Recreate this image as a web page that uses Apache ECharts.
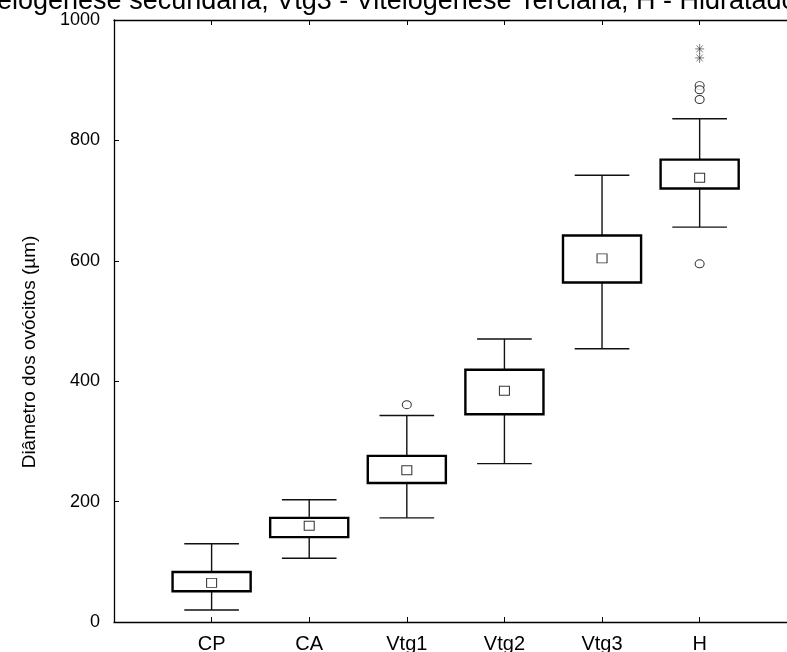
<!DOCTYPE html>
<html>
<head>
<meta charset="utf-8">
<script src="https://cdn.jsdelivr.net/npm/echarts@6/dist/echarts.min.js"></script>
<style>
  html, body { margin: 0; padding: 0; background: #fff; }
  #chart { width: 787px; height: 652px; }
</style>
</head>
<body>
<div id="chart"></div>
<script>
// Oocyte diameter by maturation stage
const stages = ['CP', 'CA', 'Vtg1', 'Vtg2', 'Vtg3', 'H'];
const whiskerLow = [20, 106, 173, 263, 454, 656];
const q1 = [51, 141, 231, 345, 564, 720];
const q3 = [83, 173, 276, 419, 642, 768];
const whiskerHigh = [130, 203, 343, 470, 742, 836];
const means = [65, 160, 252, 384, 604, 738];
// outliers: [stage, value]
const outliers = [['Vtg1', 361], ['H', 891], ['H', 884], ['H', 868], ['H', 595]];
// extreme values: [stage, value]
const extremes = [['H', 952], ['H', 937]];
const yTicks = [0, 200, 400, 600, 800, 1000];
const titleText = 'Vitelogênese secundária, Vtg3 - Vitelogênese Terciária, H - Hidratado';
const yName = 'Diâmetro dos ovócitos (µm)';

// stage -> position on the x scale (1..6)
const pos = s => stages.indexOf(s) + 1;
const stagePositions = stages.map(pos);

const boxData = stages.map((s, i) => [pos(s), whiskerLow[i], q1[i], q3[i], whiskerHigh[i]]);
const meanData = stages.map((s, i) => [pos(s), means[i]]);
const outlierData = outliers.map(o => [pos(o[0]), o[1]]);
const extremeData = extremes.map(o => [pos(o[0]), o[1]]);

const font = '"Liberation Sans", Arial, sans-serif';

function renderBox(params, api) {
  const x = api.value(0);
  const pLow = api.coord([x, api.value(1)]);
  const pQ1 = api.coord([x, api.value(2)]);
  const pQ3 = api.coord([x, api.value(3)]);
  const pHigh = api.coord([x, api.value(4)]);
  const band = api.size([1, 0])[0];
  const halfBox = band * 0.40;
  const halfCap = band * 0.28;
  const cx = pQ1[0];
  const wStyle = { stroke: '#111', lineWidth: 1.4 };
  return {
    type: 'group',
    children: [
      { type: 'line', shape: { x1: cx, y1: pQ3[1], x2: cx, y2: pHigh[1] }, style: wStyle },
      { type: 'line', shape: { x1: cx, y1: pQ1[1], x2: cx, y2: pLow[1] }, style: wStyle },
      { type: 'line', shape: { x1: cx - halfCap, y1: pHigh[1], x2: cx + halfCap, y2: pHigh[1] }, style: wStyle },
      { type: 'line', shape: { x1: cx - halfCap, y1: pLow[1], x2: cx + halfCap, y2: pLow[1] }, style: wStyle },
      { type: 'rect', shape: { x: cx - halfBox, y: pQ3[1], width: halfBox * 2, height: pQ1[1] - pQ3[1] },
        style: { fill: '#fff', stroke: '#000', lineWidth: 2.4 } }
    ]
  };
}

const chart = echarts.init(document.getElementById('chart'), null, { renderer: 'canvas' });

// x scale: stage positions 1..6, one unit per stage; the frame runs past the right edge
const xMax = 6.895;

const xBase = {
  type: 'value',
  min: 0,
  max: xMax,
  axisLine: { show: true, lineStyle: { color: '#000', width: 1.3 } },
  axisTick: { show: true, inside: true, length: 5, customValues: stagePositions, lineStyle: { color: '#000', width: 1 } },
  splitLine: { show: false }
};

chart.setOption({
  animation: false,
  backgroundColor: '#fff',
  grid: { left: 114, right: 0, top: 20, bottom: 30, containLabel: false, outerBoundsMode: 'none' },
  graphic: [
    {
      type: 'text',
      x: -34,
      y: 2,
      style: { text: titleText, fontFamily: font, fontSize: 27, fill: '#000', verticalAlign: 'middle', align: 'left' }
    },
    {
      type: 'text',
      x: 30,
      y: 352,
      rotation: Math.PI / 2,
      style: { text: yName, fontFamily: font, fontSize: 19, fill: '#000', verticalAlign: 'middle', align: 'center' }
    }
  ],
  xAxis: [
    Object.assign({}, xBase, {
      position: 'bottom',
      axisLabel: {
        show: true, color: '#000', fontFamily: font, fontSize: 20, margin: 12,
        customValues: stagePositions,
        formatter: v => stages[Math.round(v) - 1] || ''
      }
    }),
    Object.assign({}, xBase, {
      position: 'top',
      axisLabel: { show: false }
    })
  ],
  yAxis: {
    type: 'value',
    min: yTicks[0],
    max: yTicks[yTicks.length - 1],
    interval: 200,
    axisLine: { show: true, lineStyle: { color: '#000', width: 1.3 } },
    axisTick: { show: true, inside: true, length: 5, lineStyle: { color: '#000' } },
    axisLabel: { color: '#000', fontFamily: font, fontSize: 18, margin: 14, formatter: v => String(v) },
    splitLine: { show: false }
  },
  series: [
    {
      type: 'custom',
      renderItem: renderBox,
      encode: { x: 0, y: [1, 2, 3, 4] },
      data: boxData,
      z: 2
    },
    {
      type: 'scatter',
      symbol: 'rect',
      symbolSize: [10, 9],
      itemStyle: { color: '#fff', borderColor: '#000', borderWidth: 1 },
      data: meanData,
      z: 3
    },
    {
      type: 'scatter',
      symbol: 'circle',
      symbolSize: [9, 8],
      itemStyle: { color: '#fff', borderColor: '#000', borderWidth: 1 },
      data: outlierData,
      z: 3
    },
    {
      type: 'scatter',
      symbol: 'path://M5,0L5,10M0,5L10,5M1.5,1.5L8.5,8.5M8.5,1.5L1.5,8.5',
      symbolSize: [9, 10],
      itemStyle: { color: 'none', borderColor: '#333', borderWidth: 0.8 },
      data: extremeData,
      z: 3
    }
  ]
});
</script>
</body>
</html>
